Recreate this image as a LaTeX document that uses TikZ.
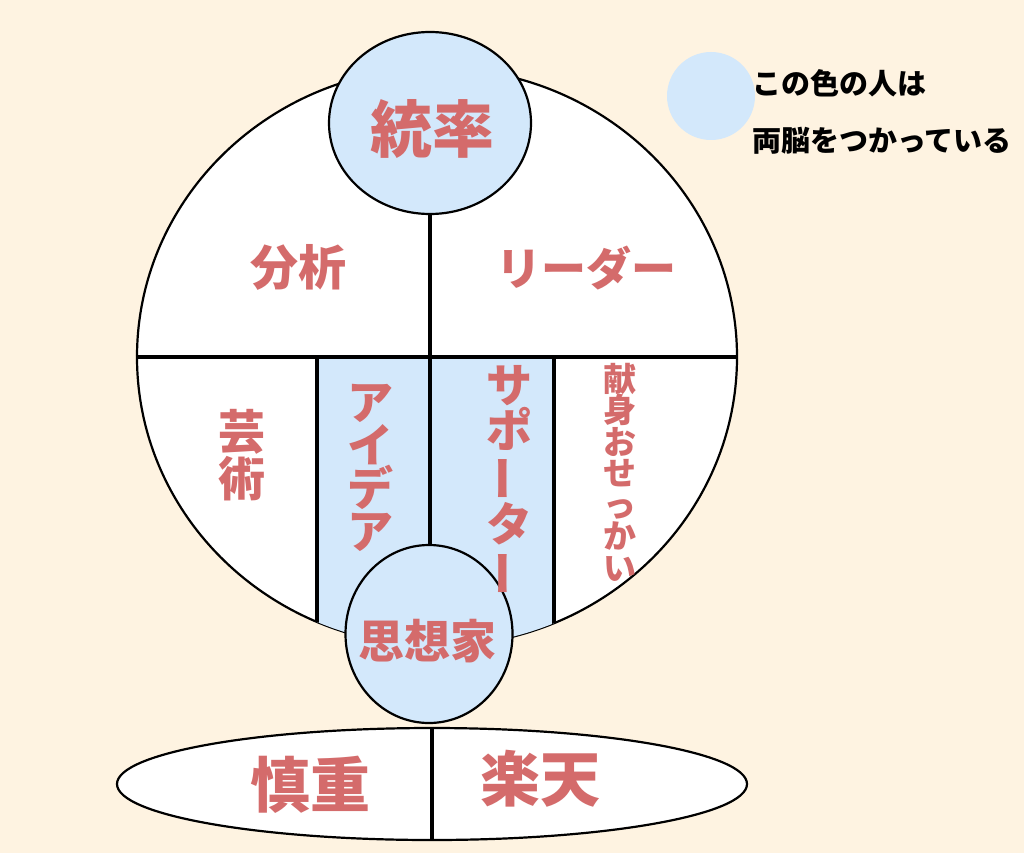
\documentclass[tikz,border=0pt]{standalone}
\usepackage{fontspec}
\usepackage{graphicx}
\setmainfont{Noto Sans CJK JP}
\usetikzlibrary{shapes.geometric}
\definecolor{bg}{HTML}{FEF3E1}
\definecolor{lblue}{HTML}{D3E8FB}
\definecolor{rose}{HTML}{D46B6B}
\newcommand\tatebou{\rotatebox[origin=c]{90}{ー}}
\tikzset{
  outl/.style={draw=black, line width=2.2pt},
  divl/.style={draw=black, line width=4pt},
  lab/.style={text=rose, font=\bfseries\fontsize{#1}{#1}\selectfont, inner sep=0pt},
  vlab/.style 2 args={text=rose, font=\bfseries\fontsize{#1}{#2}\selectfont, align=center, inner sep=0pt},
  keytxt/.style={text=black, font=\bfseries\fontsize{29}{29}\selectfont, inner sep=0pt, anchor=west},
}
\begin{document}
\begin{tikzpicture}[x=1pt,y=1pt]
\fill[bg] (0,0) rectangle (1024,-853);
\path[use as bounding box] (0,0) rectangle (1024,-853);
% big circle
\node[ellipse, outl, fill=white, minimum width=600pt, minimum height=578pt, inner sep=0pt] (big) at (437,-357) {};
\coordinate (hc) at (430,-357);
\coordinate (thk) at (429,-634);
\begin{scope}
  \clip (437,-357) ellipse [x radius=300pt, y radius=289pt];
  \fill[lblue] (317,-357) rectangle (554,-700);
  \draw[divl] (317,-357) -- (317,-700);
  \draw[divl] (554,-357) -- (554,-700);
\end{scope}
\draw[divl] (big.west) -- (big.east);
% top circle
\node[ellipse, outl, fill=lblue, minimum width=202pt, minimum height=182pt, inner sep=0pt] (top) at (430,-123) {};
\draw[divl] (top.south) -- (hc);
\draw[divl] (hc) -- (hc |- thk);
% thinker circle
\node[ellipse, outl, fill=lblue, minimum width=167pt, minimum height=178pt, inner sep=0pt] (think) at (thk) {};
% base ellipse
\node[ellipse, outl, fill=white, minimum width=630pt, minimum height=112pt, inner sep=0pt] (base) at (432,-784) {};
\draw[divl] (base.north) -- (base.south);
% labels
\node[lab=62] (t1) at (432,-129) {統率};
\node[lab=48] (t2) at (298,-267) {分析};
\node[lab=45] (t3) at (586,-268) {リーダー};
\node[vlab={47}{47}] (t4) at (242,-455) {芸\\術};
\node[vlab={46}{43}] (t5) at (370,-468) {ア\\イ\\デ\\ア};
\node[vlab={46}{42.6}] (t6) at (509,-481) {サ\\ポ\\\tatebou\\タ\\\tatebou};
\node[vlab={33}{31.5}] (t7) at (620,-472) {献\\身\\お\\せ\\っ\\か\\い};
\node[lab=46] (t8) at (427,-641) {思想家};
\node[lab=60] (t9) at (310,-785) {慎重};
\node[lab=60] (t10) at (540,-779) {楽天};
% legend
\node[circle, fill=lblue, minimum size=88pt, inner sep=0pt] (key) at (711,-96) {};
\node[keytxt] (k1) at (752,-83) {この色の人は};
\node[keytxt] (k2) at (752,-141) {両脳をつかっている};
\end{tikzpicture}
\end{document}
